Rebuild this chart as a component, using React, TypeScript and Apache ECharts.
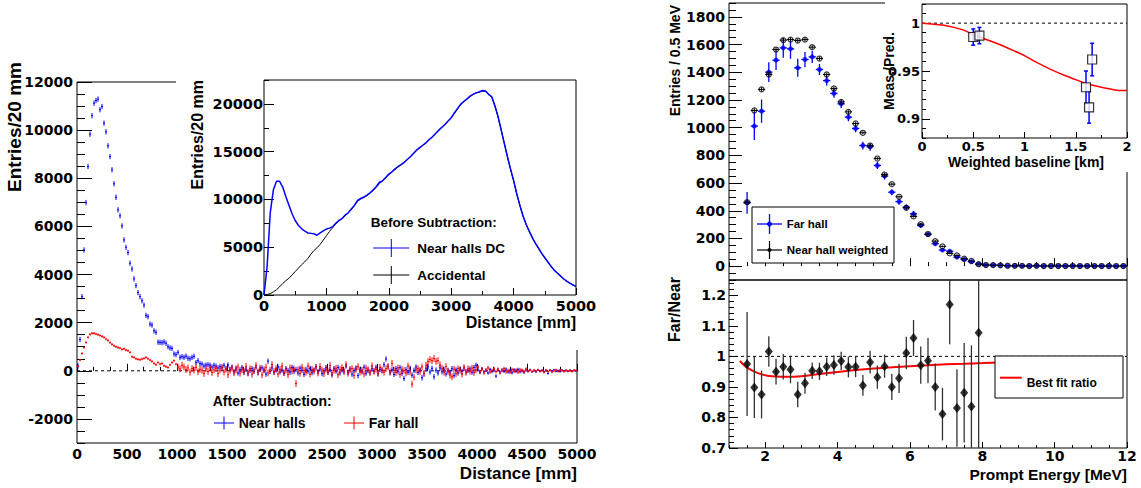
import React, { useEffect, useRef } from "react";
import * as echarts from "echarts";

// ================= DATA =================
// ---- Left main panel: after subtraction, 20 mm bins ----
const distanceBinCenters: number[] = Array.from({ length: 250 }, (_, i) => 10 + 20 * i);
const nearHallsAfter: number[] = [
  200, 1300, 3080, 5020, 6990, 8490, 9830, 10600, 11120, 11230,
  11290, 10850, 10980, 10290, 9930, 9350, 8900, 8350, 7770, 7210,
  6690, 6440, 6020, 5440, 5130, 4910, 4470, 4230, 3820, 3540,
  3250, 3080, 2910, 2730, 2300, 2250, 1940, 1900, 1660, 1600,
  1190, 1180, 1170, 1200, 1140, 1000, 950, 930, 700, 670,
  770, 560, 590, 560, 610, 520, 500, 560, 600, 340,
  420, 300, 280, 200, 240, 250, 230, 160, 230, 190,
  120, 180, 120, 230, 90, 240, 60, 150, -40, 110,
  -90, 40, 130, -60, 70, -120, 20, 90, -30, 150,
  -80, 60, 120, 10, -140, 400, -20, 120, -70, 40,
  160, -50, 30, -110, 90, 10, -60, 140, -30, 50,
  -90, 110, 20, -150, 60, -20, 100, -80, 30, 170,
  -40, 80, -120, 10, 130, -60, 50, -170, 90, -10,
  140, -90, 40, -30, 200, -60, 70, -140, 20, 110,
  -200, 60, -40, 150, -100, 30, -60, 90, -20, 140,
  -120, 60, 10, 250, 490, 180, -80, 40, -150, 90,
  -40, 130, -100, -320, 50, -60, 110, -180, 20, 160,
  -70, 40, -290, -120, 80, 170, -50, 100, -250, 30,
  -90, 120, -40, 60, -130, 20, -60, 90, -200, 40,
  -90, 70, -30, 110, -50, 20, 80, -60, 140, 230,
  30, -70, 90, -40, 20, -90, 60, -30, 10, -220,
  40, -60, 30, -20, 70, -50, 20, -80, 40, -30,
  60, -40, 10, -60, 30, -20, 40, -30, 10, -40,
  30, -10, 20, -30, 10, -110, 20, -10, 30, -20,
  10, -30, 20, -10, 10, -20, 20, -10, 10, 0,
];
const farHallAfter: number[] = [
  195, 445, 720, 970, 1180, 1390, 1510, 1560, 1560, 1530,
  1500, 1470, 1430, 1390, 1320, 1265, 1170, 1100, 1040, 1000,
  970, 945, 890, 917, 860, 835, 765, 584, 556, 500,
  475, 460, 490, 515, 556, 500, 445, 390, 305, 250,
  345, 280, 305, 210, 170, 140, 250, 345, 420, 280,
  150, 80, 230, 160, 50, 120, -60, 90, 30, 140,
  -40, 60, 20, -110, 80, -30, 130, -70, 40, 100,
  -120, 30, 150, -50, 70, -160, 20, 110, -80, 40,
  160, -100, 50, -30, 180, -60, 90, -140, 30, 220,
  -50, 110, -170, 40, 150, -90, 20, 260, -30, 90,
  -130, 60, 200, -70, 30, -160, 120, -20, 80, -530,
  40, -110, 150, 10, -60, 200, -140, 60, -20, 130,
  -90, 180, 30, -120, 70, -40, 220, -80, 20, 110,
  -160, 50, 130, -30, 260, -100, 40, 90, -190, 60,
  170, -60, 20, -130, 110, 40, -80, 210, -20, 60,
  -100, 140, 30, -60, 90, 180, -40, 310, 20, -70,
  120, -150, 60, 10, -90, 200, -50, -550, -260, 40,
  90, -40, 160, -110, 230, 380, 470, 420, 510, 390,
  430, 250, 100, -60, 180, -30, -180, -250, 60, -120,
  90, 20, -140, 130, -60, 80, -20, 110, -70, 40,
  160, -40, 70, -90, 30, 120, -50, 10, 80, -30,
  60, -80, 20, 90, -40, 10, -60, 50, -20, 30,
  -50, 40, 10, -30, 60, -20, 30, -40, 20, -10,
  40, -20, 10, -60, 30, -30, 20, -50, 10, 40,
  -20, 30, 10, -30, 20, -10, 10, -20, 20, 10,
];
// [up to distance (mm), error]
const nearHallsAfterErr: number[][] = [[1000, 110], [4000, 110], [4500, 70], [5000, 45]];
const farHallAfterErr: number[][] = [[1000, 50], [4000, 140], [4500, 80], [5000, 50]];
const zeroLineLeft: number[][] = [[0, 0], [5000, 0]];
const leftMainXTicks = [0, 500, 1000, 1500, 2000, 2500, 3000, 3500, 4000, 4500, 5000];
const leftMainYTicks = [-2000, 0, 2000, 4000, 6000, 8000, 10000, 12000];

// ---- Left inset: before subtraction, 50 mm samples ----
const insetDistance: number[] = Array.from({ length: 101 }, (_, i) => 50 * i);
const nearHallsDC: number[] = [
  0, 3000, 8600, 11000, 11900, 11900, 11300, 10300, 9400, 8500,
  7800, 7300, 6950, 6700, 6500, 6450, 6400, 6250, 6500, 6700,
  6900, 7000, 7150, 7500, 7800, 8000, 8350, 8600, 9000, 9400,
  9900, 10100, 10250, 10450, 10700, 11000, 11350, 11800, 11950, 12300,
  12650, 12900, 13200, 13450, 13650, 13900, 14200, 14500, 14850, 15200,
  15450, 15700, 15950, 16300, 16550, 16900, 17250, 17550, 17850, 18200,
  18550, 19050, 19500, 19950, 20250, 20500, 20800, 21000, 21150, 21250,
  21400, 21350, 21000, 20750, 19800, 18700, 17300, 15900, 14500, 13200,
  12000, 10600, 9400, 8300, 7400, 6700, 6000, 5400, 4900, 4350,
  3900, 3450, 3000, 2600, 2300, 2000, 1700, 1450, 1250, 1050,
  900,
];
const accidental: number[] = [
  0, 50, 150, 320, 550, 850, 1200, 1500, 1750, 2100,
  2450, 2800, 3150, 3450, 3800, 4250, 4650, 4950, 5300, 5750,
  6200, 6650, 7050, 7450, 7750, 8000, 8300, 8600, 8950, 9350,
  9800, 10050, 10200, 10400, 10650, 10950, 11300, 11650, 11950, 12250,
  12600, 12850, 13150, 13400, 13650, 13900, 14200, 14500, 14800, 15150,
  15400, 15700, 15950, 16250, 16550, 16900, 17200, 17550, 17850, 18200,
  18550, 19000, 19450, 19900, 20250, 20500, 20750, 21000, 21150, 21250,
  21350, 21300, 21000, 20700, 19800, 18650, 17300, 15900, 14500, 13200,
  11950, 10600, 9400, 8300, 7400, 6650, 6000, 5400, 4850, 4350,
  3900, 3450, 3000, 2600, 2300, 2000, 1700, 1450, 1250, 1050,
  900,
];
const insetXTicks = [0, 1000, 2000, 3000, 4000, 5000];
const insetYTicks = [0, 5000, 10000, 15000, 20000];

// ---- Right top: prompt energy spectra ----
const energyBins: number[] = Array.from({ length: 53 }, (_, i) => Math.round((1.5 + 0.2 * i) * 10) / 10);
const farHall: number[] = [
  457, 1011, 1119, 1401, 1487, 1576, 1569, 1432, 1492, 1511,
  1420, 1340, 1247, 1172, 1076, 994, 871, 862, 727, 650,
  534, 466, 426, 378, 294, 229, 162, 116, 108, 65,
  48, 32, 15, 8, 8, 6, 2, 3, 2, 1,
  3, 1, 2, 1, 1, 2, 1, 1, 0, 1,
  1, 0, 1,
];
const farHallErr: number[] = [
  78, 100, 84, 72, 70, 72, 72, 65, 55, 45,
  40, 35, 32, 30, 30, 28, 28, 28, 25, 25,
  22, 22, 20, 20, 18, 16, 14, 12, 10, 9,
  8, 7, 5, 4, 4, 3, 2, 2, 2, 1,
  1, 1, 1, 1, 1, 1, 1, 1, 1, 1,
  1, 1, 1,
];
const nearHallWeighted: number[] = [
  462, 1124, 1276, 1384, 1564, 1632, 1636, 1629, 1636, 1581,
  1499, 1384, 1283, 1186, 1114, 1030, 963, 871, 777, 662,
  592, 501, 421, 359, 303, 232, 181, 143, 92, 78,
  54, 38, 14, 8, 7, 6, 3, 2, 2, 1,
  2, 1, 1, 1, 1, 1, 1, 1, 1, 1,
  1, 1, 1,
];
const nearHallErr: number[] = [
  15, 15, 15, 15, 15, 15, 15, 15, 15, 14,
  14, 13, 13, 12, 12, 12, 11, 11, 10, 10,
  10, 9, 9, 8, 8, 7, 7, 6, 5, 5,
  4, 4, 3, 2, 2, 2, 2, 1, 1, 1,
  1, 1, 1, 1, 1, 1, 1, 1, 1, 1,
  1, 1, 1,
];
const energyXTicks = [2, 4, 6, 8, 10, 12];
const spectrumYTicks = [0, 200, 400, 600, 800, 1000, 1200, 1400, 1600, 1800];

// ---- Right bottom: Far/Near ratio ----
const ratio: number[] = [
  0.975, 0.898, 0.875, 1.016, 0.95, 0.966, 0.957, 0.875, 0.912, 0.953,
  0.951, 0.966, 0.972, 0.985, 0.965, 0.966, 0.905, 0.981, 0.932, 0.968,
  0.9, 0.928, 1.011, 1.06, 0.971, 0.986, 0.9, 0.811, 1.17, 0.831,
  0.881, 0.836, 1.077,
];
const ratioErr: number[] = [
  0.17, 0.1, 0.078, 0.05, 0.042, 0.042, 0.045, 0.042, 0.034, 0.027,
  0.028, 0.03, 0.032, 0.03, 0.034, 0.034, 0.034, 0.037, 0.038, 0.038,
  0.043, 0.048, 0.053, 0.059, 0.061, 0.074, 0.077, 0.086, 0.13, 0.127,
  0.163, 0.2, 0.6,
];
const bestFitE: number[] = [1.3, 1.5, 1.7, 1.9, 2.1, 2.3, 2.6, 3.0, 3.5, 4.0, 4.5, 5.0, 5.5, 6.0, 6.5, 7.0, 7.5, 8.0, 8.5, 9.0, 10.0];
const bestFitRatio: number[] = [0.985, 0.963, 0.95, 0.941, 0.936, 0.934, 0.933, 0.935, 0.942, 0.949, 0.955, 0.96, 0.964, 0.968, 0.971, 0.974, 0.976, 0.978, 0.98, 0.981, 0.984];
const unityLineRatio: number[][] = [[1, 1], [12, 1]];
const ratioYTicks = [0.7, 0.8, 0.9, 1, 1.1, 1.2];

// ---- Right inset: Meas./Pred. vs baseline ----
const baselineKm: number[] = [0.5, 0.56, 1.6, 1.63, 1.66];
const measPred: number[] = [0.9855, 0.987, 0.933, 0.912, 0.962];
const measPredErr: number[] = [0.0085, 0.0085, 0.017, 0.0165, 0.017];
const oscBaseline: number[] = [0, 0.2, 0.4, 0.5, 0.6, 0.75, 0.9, 1.0, 1.1, 1.25, 1.4, 1.5, 1.6, 1.75, 1.9, 2.0];
const oscCurve: number[] = [1, 0.998, 0.993, 0.988, 0.984, 0.978, 0.971, 0.966, 0.96, 0.952, 0.945, 0.941, 0.937, 0.933, 0.93, 0.9296];
const unityLineInset: number[][] = [[0, 1], [2, 1]];
const baselineXTicks = [0, 0.5, 1, 1.5, 2];
const measPredYTicks = [0.9, 0.95, 1];

// ================= STYLE / HELPERS =================
const FONT_TXT = '"Liberation Sans", Arial, Helvetica, sans-serif';
const FONT_NUM = '"DejaVu Sans", sans-serif';
const BLUE = "#0000ff";
const RED = "#ff0000";

function errFromTable(x: number, table: number[][]): number {
  for (const [upTo, e] of table) if (x <= upTo) return e;
  return table[table.length - 1][1];
}

function crossItem(halfWidth: number, color: string, lw: number, capPx = 0) {
  return (params: any, api: any) => {
    const x = api.value(0), y = api.value(1), e = api.value(2);
    const cs = params.coordSys;
    const clampY = (v: number) => Math.max(cs.y, Math.min(cs.y + cs.height, v));
    const c = api.coord([x, y]);
    const top = clampY(api.coord([x, y + e])[1]);
    const bot = clampY(api.coord([x, y - e])[1]);
    const children: any[] = [
      { type: "line", shape: { x1: c[0], y1: top, x2: c[0], y2: bot }, style: { stroke: color, lineWidth: lw } },
    ];
    if (halfWidth > 0) {
      const l = api.coord([x - halfWidth, y])[0];
      const r = api.coord([x + halfWidth, y])[0];
      children.push({ type: "line", shape: { x1: l, y1: c[1], x2: r, y2: c[1] }, style: { stroke: color, lineWidth: lw } });
    }
    if (capPx > 0) {
      children.push({ type: "line", shape: { x1: c[0] - capPx, y1: top, x2: c[0] + capPx, y2: top }, style: { stroke: color, lineWidth: lw } });
      children.push({ type: "line", shape: { x1: c[0] - capPx, y1: bot, x2: c[0] + capPx, y2: bot }, style: { stroke: color, lineWidth: lw } });
    }
    return { type: "group", children };
  };
}

type AxisSpec = {
  dim: "x" | "y";
  grid: number;
  min: number;
  max: number;
  minorStep: number;
  majors: number[];
  labels: boolean;
  majorLen: number;
  minorLen: number;
  labelSize: number;
  labelMargin: number;
  z: number;
};

function makeAxes(s: AxisSpec) {
  const common: any = {
    type: "value",
    gridIndex: s.grid,
    min: s.min,
    max: s.max,
    position: s.dim === "x" ? "bottom" : "left",
    splitLine: { show: false },
    axisLine: { show: false },
    z: s.z,
  };
  const primary = {
    ...common,
    interval: s.minorStep,
    axisTick: { show: true, inside: true, length: s.minorLen, lineStyle: { color: "#000", width: 1 } },
    axisLabel: {
      show: s.labels,
      customValues: s.majors,
      margin: s.labelMargin,
      formatter: (v: number) => String(v),
      color: "#000",
      fontFamily: FONT_NUM,
      fontWeight: "bold",
      fontSize: s.labelSize,
    },
  };
  const secondary = {
    ...common,
    axisTick: { show: true, inside: true, length: s.majorLen, customValues: s.majors, lineStyle: { color: "#000", width: 1 } },
    axisLabel: { show: false },
  };
  return [primary, secondary];
}

function gText(text: string, x: number, y: number, size: number, align = "left", rotation = 0) {
  return {
    type: "text",
    x,
    y,
    rotation,
    z: 30,
    silent: true,
    style: { text, fill: "#000", fontFamily: FONT_TXT, fontWeight: "bold", fontSize: size, align, verticalAlign: "middle" },
  };
}
function gLine(x1: number, y1: number, x2: number, y2: number, color: string, lw = 1) {
  return { type: "line", z: 30, silent: true, shape: { x1, y1, x2, y2 }, style: { stroke: color, lineWidth: lw } };
}

function buildOption(): any {
  const gridDefs = [
    { left: 77, top: 82, width: 500, height: 361, z: 0 }, // left main
    { left: 264, top: 80, width: 312, height: 215, z: 11 }, // left inset
    { left: 729, top: 3, width: 398, height: 277, z: 0 }, // right top
    { left: 729, top: 280, width: 398, height: 168, z: 0 }, // right bottom
    { left: 922, top: 4, width: 205, height: 134, z: 11 }, // right inset
  ];
  const grid = gridDefs.map((g) => ({
    ...g,
    show: true,
    borderColor: "#000",
    borderWidth: 1,
    backgroundColor: "transparent",
    containLabel: false,
  }));

  const xSpecs: AxisSpec[] = [
    { dim: "x", grid: 0, min: 0, max: 5000, minorStep: 500 / 3, majors: leftMainXTicks, labels: true, majorLen: 7, minorLen: 4, labelSize: 14, labelMargin: 4, z: 1 },
    { dim: "x", grid: 1, min: 0, max: 5000, minorStep: 500, majors: insetXTicks, labels: true, majorLen: 7, minorLen: 4, labelSize: 14.5, labelMargin: 3, z: 12 },
    { dim: "x", grid: 2, min: 1, max: 12, minorStep: 0.5, majors: energyXTicks, labels: false, majorLen: 8, minorLen: 4, labelSize: 14, labelMargin: 2, z: 1 },
    { dim: "x", grid: 3, min: 1, max: 12, minorStep: 0.5, majors: energyXTicks, labels: true, majorLen: 6, minorLen: 3, labelSize: 14, labelMargin: 1, z: 1 },
    { dim: "x", grid: 4, min: 0, max: 2, minorStep: 0.25, majors: baselineXTicks, labels: true, majorLen: 6, minorLen: 3, labelSize: 13, labelMargin: 2, z: 12 },
  ];
  const ySpecs: AxisSpec[] = [
    { dim: "y", grid: 0, min: -3000, max: 12000, minorStep: 500, majors: leftMainYTicks, labels: true, majorLen: 15, minorLen: 8, labelSize: 14, labelMargin: 4, z: 1 },
    { dim: "y", grid: 1, min: 0, max: 22500, minorStep: 2500, majors: insetYTicks, labels: true, majorLen: 10, minorLen: 5, labelSize: 14.5, labelMargin: 1, z: 12 },
    { dim: "y", grid: 2, min: -100, max: 1900, minorStep: 50, majors: spectrumYTicks, labels: true, majorLen: 13, minorLen: 7, labelSize: 14, labelMargin: 4, z: 1 },
    { dim: "y", grid: 3, min: 0.7, max: 1.25, minorStep: 0.02, majors: ratioYTicks, labels: true, majorLen: 9, minorLen: 5, labelSize: 14, labelMargin: 3, z: 1 },
    { dim: "y", grid: 4, min: 0.88, max: 1.02, minorStep: 0.01, majors: measPredYTicks, labels: true, majorLen: 8, minorLen: 4, labelSize: 13, labelMargin: 2, z: 12 },
  ];
  const xAxis = xSpecs.flatMap(makeAxes);
  const yAxis = ySpecs.flatMap(makeAxes);
  const ax = (g: number) => ({ xAxisIndex: 2 * g, yAxisIndex: 2 * g });

  const leftNearData = distanceBinCenters.map((x, i) => [x, nearHallsAfter[i], errFromTable(x, nearHallsAfterErr)]);
  const leftFarData = distanceBinCenters.map((x, i) => [x, farHallAfter[i], errFromTable(x, farHallAfterErr)]);

  const series: any[] = [
    // ---- left main ----
    { type: "line", ...ax(0), data: zeroLineLeft, symbol: "none", silent: true, z: 1, lineStyle: { color: "#000", width: 1, type: [3, 3] } },
    { type: "custom", ...ax(0), data: leftNearData, encode: { x: 0, y: 1 }, renderItem: crossItem(10, BLUE, 1), z: 3, silent: true },
    { type: "custom", ...ax(0), data: leftFarData, encode: { x: 0, y: 1 }, renderItem: crossItem(10, RED, 1), z: 4, silent: true },
    // ---- left inset ----
    { type: "line", ...ax(1), data: insetDistance.map((x, i) => [x, accidental[i]]), symbol: "none", silent: true, z: 13, lineStyle: { color: "#000", width: 1 } },
    { type: "line", ...ax(1), data: insetDistance.map((x, i) => [x, nearHallsDC[i]]), symbol: "none", silent: true, z: 14, lineStyle: { color: BLUE, width: 1.5 } },
    // ---- right top ----
    { type: "custom", ...ax(2), data: energyBins.map((x, i) => [x, farHall[i], farHallErr[i]]), encode: { x: 0, y: 1 }, renderItem: crossItem(0.1, BLUE, 1.3), z: 4, silent: true },
    { type: "scatter", ...ax(2), data: energyBins.map((x, i) => [x, farHall[i]]), symbol: "circle", symbolSize: 5, itemStyle: { color: BLUE }, z: 5, silent: true },
    { type: "custom", ...ax(2), data: energyBins.map((x, i) => [x, nearHallWeighted[i], nearHallErr[i]]), encode: { x: 0, y: 1 }, renderItem: crossItem(0.1, "#000", 1), z: 6, silent: true },
    { type: "scatter", ...ax(2), data: energyBins.map((x, i) => [x, nearHallWeighted[i]]), symbol: "circle", symbolSize: 5, itemStyle: { color: "transparent", borderColor: "#000", borderWidth: 1.2 }, z: 7, silent: true },
    // ---- right bottom ----
    { type: "line", ...ax(3), data: unityLineRatio, symbol: "none", silent: true, z: 3, lineStyle: { color: "#000", width: 1, type: [3, 3] } },
    { type: "line", ...ax(3), data: bestFitE.map((x, i) => [x, bestFitRatio[i]]), symbol: "none", smooth: 0.3, silent: true, z: 4, lineStyle: { color: RED, width: 2 } },
    { type: "custom", ...ax(3), data: energyBins.slice(0, ratio.length).map((x, i) => [x, ratio[i], ratioErr[i]]), encode: { x: 0, y: 1 }, renderItem: crossItem(0, "#333", 1.3), z: 5, silent: true },
    { type: "scatter", ...ax(3), data: energyBins.slice(0, ratio.length).map((x, i) => [x, ratio[i]]), symbol: "diamond", symbolSize: [8, 10], itemStyle: { color: "#000" }, z: 6, silent: true },
    // ---- right inset ----
    { type: "line", ...ax(4), data: unityLineInset, symbol: "none", silent: true, z: 13, lineStyle: { color: "#000", width: 1, type: [3, 3] } },
    { type: "line", ...ax(4), data: oscBaseline.map((x, i) => [x, oscCurve[i]]), symbol: "none", smooth: 0.3, silent: true, z: 14, lineStyle: { color: RED, width: 1.5 } },
    { type: "custom", ...ax(4), data: baselineKm.map((x, i) => [x, measPred[i], measPredErr[i]]), encode: { x: 0, y: 1 }, renderItem: crossItem(0, BLUE, 1.5, 2), z: 15, silent: true },
    { type: "scatter", ...ax(4), data: baselineKm.map((x, i) => [x, measPred[i]]), symbol: "rect", symbolSize: 9, itemStyle: { color: "#fff", borderColor: "#000", borderWidth: 1.2 }, z: 16, silent: true },
  ];

  const graphicElements: any[] = [
    // white pads of the insets
    { type: "rect", z: 10, silent: true, shape: { x: 176, y: 58, width: 406, height: 292 }, style: { fill: "#fff" } },
    { type: "rect", z: 10, silent: true, shape: { x: 885, y: 0, width: 256, height: 172 }, style: { fill: "#fff" } },
    // axis titles
    gText("Entries/20 mm", 14, 62, 19, "right", Math.PI / 2),
    gText("Distance [mm]", 577, 473, 17, "right"),
    gText("Entries/20 mm", 197, 80, 16, "right", Math.PI / 2),
    gText("Distance [mm]", 576, 322, 16, "right"),
    gText("Entries / 0.5 MeV", 675, 5, 14, "right", Math.PI / 2),
    gText("Far/Near", 674, 277, 16, "right", Math.PI / 2),
    gText("Prompt Energy [MeV]", 1127, 474, 15.5, "right"),
    gText("Weighted baseline [km]", 1104, 162, 14, "right"),
    gText("Meas./Pred.", 889, 71, 14, "center", Math.PI / 2),
    // left main legend
    gText("After Subtraction:", 212.7, 401, 14),
    gLine(214, 423, 234, 423, BLUE), gLine(224, 416.5, 224, 429.5, BLUE),
    gText("Near halls", 238.7, 423, 14),
    gLine(344, 423, 364, 423, RED), gLine(354, 416.5, 354, 429.5, RED),
    gText("Far hall", 368.7, 423, 14),
    // left inset legend
    gText("Before Subtraction:", 370.7, 222, 13.5),
    gLine(373.3, 248, 409.3, 248, BLUE), gLine(391.3, 239, 391.3, 257, BLUE),
    gText("Near halls DC", 417.3, 248, 13.5),
    gLine(373.3, 275, 409.3, 275, "#000"), gLine(391.3, 266, 391.3, 284, "#000"),
    gText("Accidental", 417.3, 275, 13.5),
    // right top legend
    { type: "rect", z: 29, silent: true, shape: { x: 752, y: 207, width: 142, height: 56 }, style: { fill: "#fff", stroke: "#000", lineWidth: 1 } },
    gLine(757, 224, 782, 224, BLUE, 1.3), gLine(769.5, 214, 769.5, 234, BLUE, 1.3),
    { type: "circle", z: 30, silent: true, shape: { cx: 769.5, cy: 224, r: 2.5 }, style: { fill: BLUE } },
    gText("Far hall", 786.7, 224, 11.5),
    gLine(757, 250, 782, 250, "#000", 1.2), gLine(769.5, 241, 769.5, 259, "#000", 1.2),
    { type: "circle", z: 30, silent: true, shape: { cx: 769.5, cy: 250, r: 2 }, style: { fill: "#000" } },
    gText("Near hall weighted", 786.7, 250, 11.5),
    // right bottom legend
    { type: "rect", z: 29, silent: true, shape: { x: 995, y: 356, width: 128, height: 42 }, style: { fill: "#fff", stroke: "#000", lineWidth: 1 } },
    gLine(1000, 377.7, 1021.7, 377.7, RED, 2),
    gText("Best fit ratio", 1026.7, 382.7, 12),
  ];

  return {
    animation: false,
    backgroundColor: "#fff",
    grid,
    xAxis,
    yAxis,
    series,
    graphic: { elements: graphicElements },
  };
}

export default function App() {
  const ref = useRef<HTMLDivElement>(null);
  useEffect(() => {
    if (!ref.current) return;
    const chart = echarts.init(ref.current, undefined, { renderer: "svg" });
    chart.setOption(buildOption());
    return () => chart.dispose();
  }, []);
  return (
    <div
      ref={ref}
      style={{ position: "absolute", left: 0, top: 0, width: 1141, height: 488, background: "#fff" }}
    />
  );
}
